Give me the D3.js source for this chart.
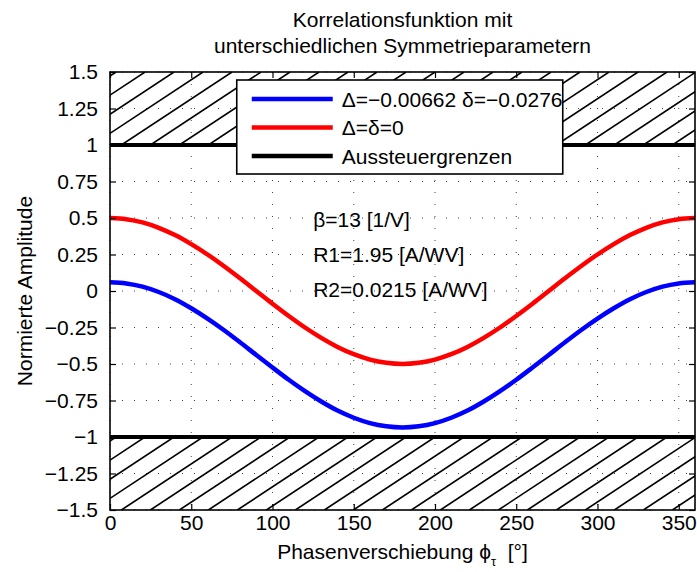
<!DOCTYPE html>
<html>
<head>
<meta charset="utf-8">
<script src="https://cdn.jsdelivr.net/npm/d3@7"></script>
<style>
    body { margin: 0; background: #fff; }
    svg text { font-family: "Liberation Sans", Arial, Helvetica, sans-serif; fill: #000; }
</style>
</head>
<body>
<div id="chart"></div>
<script>
// phase shift in degrees
const phaseDeg = [0, 10, 20, 30, 40, 50, 60, 70, 80, 90, 100, 110, 120, 130, 140, 150, 160, 170, 180,
    190, 200, 210, 220, 230, 240, 250, 260, 270, 280, 290, 300, 310, 320, 330, 340, 350, 360];

// Delta = -0.00662, delta = -0.0276 (blue)
const ampAsym = [0.060, 0.052, 0.030, -0.007, -0.056, -0.118, -0.189, -0.267, -0.351, -0.438,
    -0.524, -0.608, -0.686, -0.757, -0.819, -0.868, -0.905, -0.927, -0.935,
    -0.927, -0.905, -0.868, -0.819, -0.757, -0.686, -0.608, -0.524, -0.438,
    -0.351, -0.267, -0.189, -0.118, -0.056, -0.007, 0.030, 0.052, 0.060];

// Delta = delta = 0 (red)
const ampSym = [0.500, 0.492, 0.470, 0.433, 0.383, 0.321, 0.250, 0.171, 0.087, 0.000,
    -0.087, -0.171, -0.250, -0.321, -0.383, -0.433, -0.470, -0.492, -0.500,
    -0.492, -0.470, -0.433, -0.383, -0.321, -0.250, -0.171, -0.087, 0.000,
    0.087, 0.171, 0.250, 0.321, 0.383, 0.433, 0.470, 0.492, 0.500];

// saturation limits
const limits = [-1, 1];

const xTicks = [0, 50, 100, 150, 200, 250, 300, 350];
const yTicks = [-1.5, -1.25, -1, -0.75, -0.5, -0.25, 0, 0.25, 0.5, 0.75, 1, 1.25, 1.5];

const legendLabels = ["Δ=−0.00662 δ=−0.0276", "Δ=δ=0", "Aussteuergrenzen"];
const paramLabels = ["β=13 [1/V]", "R1=1.95 [A/WV]", "R2=0.0215 [A/WV]"];
const titleLines = ["Korrelationsfunktion mit", "unterschiedlichen Symmetrieparametern"];

class CorrelationChart {
    constructor(parentElement) {
        this.parentElement = parentElement;
        this.initVis();
    }

    initVis() {
        let vis = this;

        vis.margin = { top: 72, right: 2, bottom: 62, left: 110 };
        vis.width = 697 - vis.margin.left - vis.margin.right;
        vis.height = 572 - vis.margin.top - vis.margin.bottom;

        vis.svg = d3.select("#" + vis.parentElement)
            .append("svg")
            .attr("width", 697)
            .attr("height", 572);

        vis.g = vis.svg.append("g")
            .attr("transform", `translate(${vis.margin.left}, ${vis.margin.top})`);

        vis.x = d3.scaleLinear().domain([0, 360]).range([0, vis.width]);
        vis.y = d3.scaleLinear().domain([-1.5, 1.5]).range([vis.height, 0]);

        // dotted grid
        vis.g.append("g").selectAll("line.gx")
            .data(xTicks)
            .enter().append("line")
            .attr("x1", d => vis.x(d)).attr("x2", d => vis.x(d))
            .attr("y1", 0).attr("y2", vis.height)
            .attr("stroke", "#444")
            .attr("stroke-width", 1)
            .style("stroke-dasharray", "1, 11");

        vis.g.append("g").selectAll("line.gy")
            .data(yTicks)
            .enter().append("line")
            .attr("x1", 0).attr("x2", vis.width)
            .attr("y1", d => vis.y(d)).attr("y2", d => vis.y(d))
            .attr("stroke", "#444")
            .attr("stroke-width", 1)
            .style("stroke-dasharray", "1, 11");

        // hatched regions outside the limits
        let bands = [[limits[1], 1.5], [-1.5, limits[0]]];
        let spacing = 29, slope = 0.66;
        bands.forEach((b, i) => {
            let top = vis.y(b[1]), bottom = vis.y(b[0]);
            let h = bottom - top;
            let dx = h / slope;
            let clipId = "band" + i;
            vis.g.append("clipPath").attr("id", clipId)
                .append("rect")
                .attr("x", 0).attr("y", top)
                .attr("width", vis.width).attr("height", h);
            let starts = d3.range(-dx - spacing + 6, vis.width + spacing, spacing);
            vis.g.append("g")
                .attr("clip-path", `url(#${clipId})`)
                .selectAll("line")
                .data(starts)
                .enter().append("line")
                .attr("x1", d => d).attr("y1", bottom)
                .attr("x2", d => d + dx).attr("y2", top)
                .attr("stroke", "#000")
                .attr("stroke-width", 1.6);
        });

        // limit lines
        vis.g.selectAll("line.limit")
            .data(limits)
            .enter().append("line")
            .attr("class", "limit")
            .attr("x1", vis.x(0)).attr("x2", vis.x(360))
            .attr("y1", d => vis.y(d)).attr("y2", d => vis.y(d))
            .attr("stroke", "#000")
            .attr("stroke-width", 4);

        // curves
        let line = d3.line()
            .x((d, i) => vis.x(phaseDeg[i]))
            .y(d => vis.y(d))
            .curve(d3.curveCatmullRom);

        vis.g.append("path")
            .datum(ampAsym)
            .attr("d", line)
            .attr("fill", "none")
            .attr("stroke", "#0000ff")
            .attr("stroke-width", 4.5);

        vis.g.append("path")
            .datum(ampSym)
            .attr("d", line)
            .attr("fill", "none")
            .attr("stroke", "#ff0000")
            .attr("stroke-width", 4.5);

        // axes, ticks inward on all sides
        let fmt = d => (d < 0 ? "\u2212" : "") + Math.abs(d);

        let xAxis = d3.axisBottom(vis.x).tickValues(xTicks).tickFormat(d => d)
            .tickSizeInner(-6).tickSizeOuter(0).tickPadding(5);
        let yAxis = d3.axisLeft(vis.y).tickValues(yTicks).tickFormat(fmt)
            .tickSizeInner(-6).tickSizeOuter(0).tickPadding(12);
        let xTop = d3.axisTop(vis.x).tickValues(xTicks).tickFormat("")
            .tickSizeInner(-6).tickSizeOuter(0);
        let yRight = d3.axisRight(vis.y).tickValues(yTicks).tickFormat("")
            .tickSizeInner(-6).tickSizeOuter(0);

        let axes = [
            vis.g.append("g").attr("transform", `translate(0, ${vis.height})`).call(xAxis),
            vis.g.append("g").call(yAxis),
            vis.g.append("g").call(xTop),
            vis.g.append("g").attr("transform", `translate(${vis.width}, 0)`).call(yRight)
        ];
        axes.forEach(a => {
            a.select(".domain").remove();
            a.selectAll(".tick line").attr("stroke", "#000").attr("stroke-width", 1.2);
            a.selectAll(".tick text")
                .style("font-size", "21px")
                .style("font-family", "'Liberation Sans', Arial, sans-serif");
        });

        vis.g.append("rect")
            .attr("width", vis.width)
            .attr("height", vis.height)
            .attr("fill", "none")
            .attr("stroke", "#000")
            .attr("stroke-width", 1.6);

        // parameter annotations
        vis.g.selectAll("text.param")
            .data(paramLabels)
            .enter().append("text")
            .attr("class", "param")
            .attr("x", vis.x(125))
            .attr("y", (d, i) => vis.y(0.44) + i * 35)
            .style("font-size", "21px")
            .text(d => d);

        // legend
        vis.legend = vis.g.append("g")
            .attr("transform", `translate(${vis.x(78)}, 8)`);
        vis.legend.append("rect")
            .attr("width", 326)
            .attr("height", 94)
            .attr("fill", "#fff")
            .attr("stroke", "#000")
            .attr("stroke-width", 1.6);
        let legendColors = ["#0000ff", "#ff0000", "#000000"];
        legendLabels.forEach((lab, i) => {
            vis.legend.append("line")
                .attr("x1", 15).attr("x2", 96)
                .attr("y1", 19 + i * 28.5).attr("y2", 19 + i * 28.5)
                .attr("stroke", legendColors[i])
                .attr("stroke-width", 4.5);
            vis.legend.append("text")
                .attr("x", 105)
                .attr("y", 19 + i * 28.5)
                .attr("dy", "0.36em")
                .style("font-size", "21px")
                .text(lab);
        });

        // title
        vis.svg.selectAll("text.title")
            .data(titleLines)
            .enter().append("text")
            .attr("class", "title")
            .attr("x", vis.margin.left + vis.width / 2)
            .attr("y", (d, i) => 27 + i * 26)
            .attr("text-anchor", "middle")
            .style("font-size", "21px")
            .text(d => d);

        // x label
        let xl = vis.svg.append("text")
            .attr("x", vis.margin.left + vis.width / 2)
            .attr("y", 559)
            .attr("text-anchor", "middle")
            .style("font-size", "21px");
        xl.append("tspan").text("Phasenverschiebung ϕ");
        xl.append("tspan").attr("dy", 7).style("font-size", "13px").text("τ");
        xl.append("tspan").attr("dy", -7).text("\u00a0 [°]");

        // y label
        vis.svg.append("text")
            .attr("transform", "rotate(-90)")
            .attr("x", -(vis.margin.top + vis.height / 2))
            .attr("y", 32)
            .attr("text-anchor", "middle")
            .style("font-size", "21px")
            .text("Normierte Amplitude");
    }
}

new CorrelationChart("chart");
</script>
</body>
</html>
